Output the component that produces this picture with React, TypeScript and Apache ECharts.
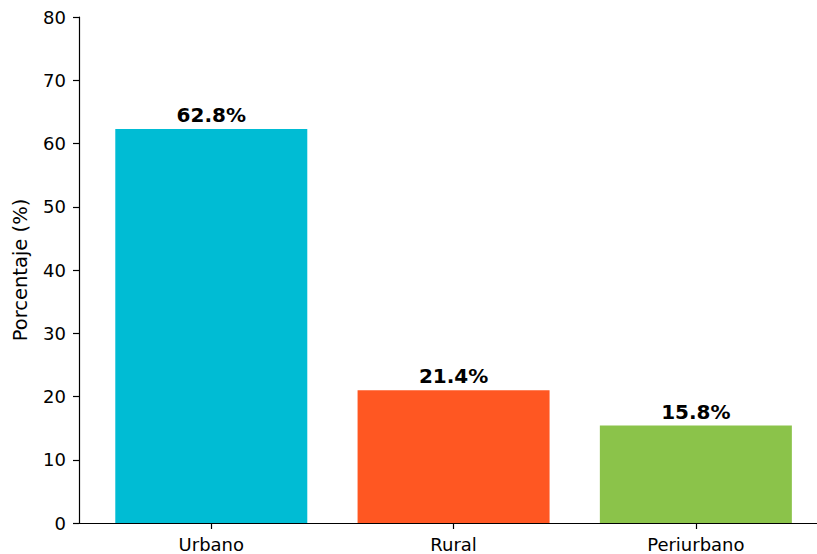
import React, { useEffect, useRef } from "react";
import * as echarts from "echarts";

const categories = ["Urbano", "Rural", "Periurbano"];
const barValues = [62.3, 21.0, 15.4];
const labelTexts = ["62.8%", "21.4%", "15.8%"];
const colors = ["#00BCD4", "#FF5722", "#8BC34A"];
const yTicks = { min: 0, max: 80, interval: 10 };

export default function App() {
  const ref = useRef<HTMLDivElement>(null);
  useEffect(() => {
    if (!ref.current) return;
    const chart = echarts.init(ref.current, null, { renderer: "svg" });
    const font = "DejaVu Sans";
    chart.setOption({
      animation: false,
      grid: { left: 79, right: 0, top: 17, bottom: 31 },
      xAxis: {
        type: "value",
        min: -0.546,
        max: 2.5,
        splitLine: { show: false },
        axisLine: { show: true, onZero: false, lineStyle: { color: "#000", width: 1.2 } },
        axisTick: { show: true, customValues: [0, 1, 2], length: 6, lineStyle: { color: "#000", width: 1.2 } },
        axisLabel: {
          customValues: [0, 1, 2],
          formatter: (v: number) => categories[Math.round(v)] ?? "",
          color: "#000",
          fontFamily: font,
          fontSize: 18,
          margin: 12,
        },
      },
      yAxis: {
        type: "value",
        min: yTicks.min,
        max: yTicks.max,
        interval: yTicks.interval,
        name: "Porcentaje (%)",
        nameLocation: "middle",
        nameGap: 49,
        nameTextStyle: { color: "#000", fontFamily: font, fontSize: 19.5 },
        splitLine: { show: false },
        axisLine: { show: true, onZero: false, lineStyle: { color: "#000", width: 1.2 } },
        axisTick: { show: true, length: 6, lineStyle: { color: "#000", width: 1.2 } },
        axisLabel: { color: "#000", fontFamily: font, fontSize: 18, margin: 13 },
      },
      series: [
        {
          type: "bar",
          barWidth: 192,
          data: barValues.map((v, i) => ({ value: [i, v], itemStyle: { color: colors[i] } })),
          label: {
            show: true,
            position: "top",
            distance: 4,
            formatter: (p: any) => labelTexts[p.dataIndex],
            color: "#000",
            fontFamily: font,
            fontSize: 20,
            fontWeight: "bold",
          },
        },
      ],
    });
    return () => chart.dispose();
  }, []);
  return <div ref={ref} style={{ width: 817, height: 554, position: "absolute", left: 0, top: 0 }} />;
}
